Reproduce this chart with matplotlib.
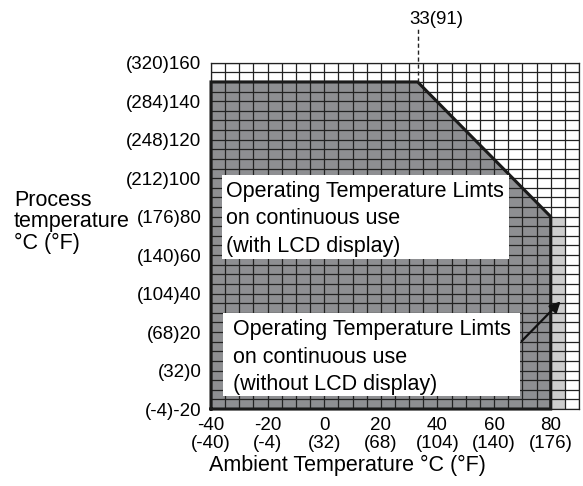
import matplotlib
matplotlib.use('Agg')
import numpy as np
from matplotlib import pyplot as plt
from matplotlib.patches import Polygon, Rectangle

plt.rcParams['font.family'] = ['Liberation Sans', 'DejaVu Sans']

# limits of continuous use (with LCD), in degC
lcd_x = [-40, -40, 33, 80, 80]
lcd_y = [-20, 150, 150, 80, -20]
# extra area allowed without LCD display
nolcd_x = [80, 80, 85, 85]
nolcd_y = [-20, 80, 80, -20]

amb_ticks = [-40, -20, 0, 20, 40, 60, 80]
amb_labels = ['-40\n(-40)', '-20\n(-4)', '0\n(32)', '20\n(68)', '40\n(104)', '60\n(140)', '80\n(176)']
proc_ticks = [-20, 0, 20, 40, 60, 80, 100, 120, 140, 160]
proc_labels = ['(-4)-20', '(32)0', '(68)20', '(104)40', '(140)60', '(176)80',
               '(212)100', '(248)120', '(284)140', '(320)160']

fs = 13.5   # ticks
fs2 = 15.5  # labels and boxes
fig = plt.figure(figsize=(5.83, 4.86), dpi=100)
ax = fig.add_axes([211/583, 1-409/486, 368/583, 346.3/486])
ax.set_xlim(-40, 90)
ax.set_ylim(-20, 160)

# shaded areas
ax.add_patch(Polygon(np.column_stack([lcd_x, lcd_y]), closed=True,
                     facecolor='#8e8f92', edgecolor='none', zorder=1))
ax.add_patch(Polygon(np.column_stack([nolcd_x, nolcd_y]), closed=True,
                     facecolor='#cdcdcd', edgecolor='none', zorder=1))

# fine grid every 5 degrees
ax.set_xticks(np.arange(-40, 91, 5), minor=True)
ax.set_yticks(np.arange(-20, 161, 5), minor=True)
ax.grid(which='minor', color='#222222', lw=0.9)
ax.grid(which='major', color='#222222', lw=0.9)
ax.set_axisbelow(False)
ax.set_xticks(amb_ticks)
ax.set_xticklabels(amb_labels, fontsize=fs, linespacing=1.05)
ax.set_yticks(proc_ticks)
ax.set_yticklabels(proc_labels, fontsize=fs)
ax.tick_params(which='both', length=0)
ax.tick_params(axis='x', pad=6)
ax.tick_params(axis='y', pad=7)
for s in ax.spines.values():
    s.set_linewidth(0.9)
    s.set_color('#222222')

# outline of the LCD limit
ax.plot(lcd_x + [lcd_x[0]], lcd_y + [lcd_y[0]], color='#1a1a1a', lw=2.2,
        zorder=5, clip_on=False, solid_joinstyle='miter')

# 33(91) marker
ax.plot([33, 33], [150, 178], color='#222222', lw=1, ls=(0, (3, 2)), clip_on=False, zorder=5)
ax.text(39.5, 182.5, '33(91)', fontsize=fs, ha='center', va='center', clip_on=False)

# annotation boxes
ax.add_patch(Rectangle((-36.1, 58), 101.3, 43.6, facecolor='white', edgecolor='none', zorder=6))
ax.text(-34.7, 78.8, 'Operating Temperature Limts\non continuous use\n(with LCD display)',
        fontsize=fs2, ha='left', va='center', linespacing=1.4, zorder=7)
ax.add_patch(Rectangle((-35.8, -13.2), 104.9, 43.1, facecolor='white', edgecolor='none', zorder=6))
ax.text(-32.2, 7.0, 'Operating Temperature Limts\non continuous use\n(without LCD display)',
        fontsize=fs2, ha='left', va='center', linespacing=1.4, zorder=7)
ax.annotate('', xy=(84.2, 37), xytext=(69.1, 14.3),
            arrowprops=dict(arrowstyle='-|>', color='#111111', lw=1.6, mutation_scale=16),
            zorder=8)

fig.text(347/583, 1-465/486, 'Ambient Temperature °C (°F)', fontsize=fs2, ha='center', va='center')
fig.text(14/583, 1-222/486, 'Process\ntemperature\n°C (°F)', fontsize=fs2, ha='left', va='center',
         linespacing=1.05)

fig.savefig('out.png', dpi=100)
